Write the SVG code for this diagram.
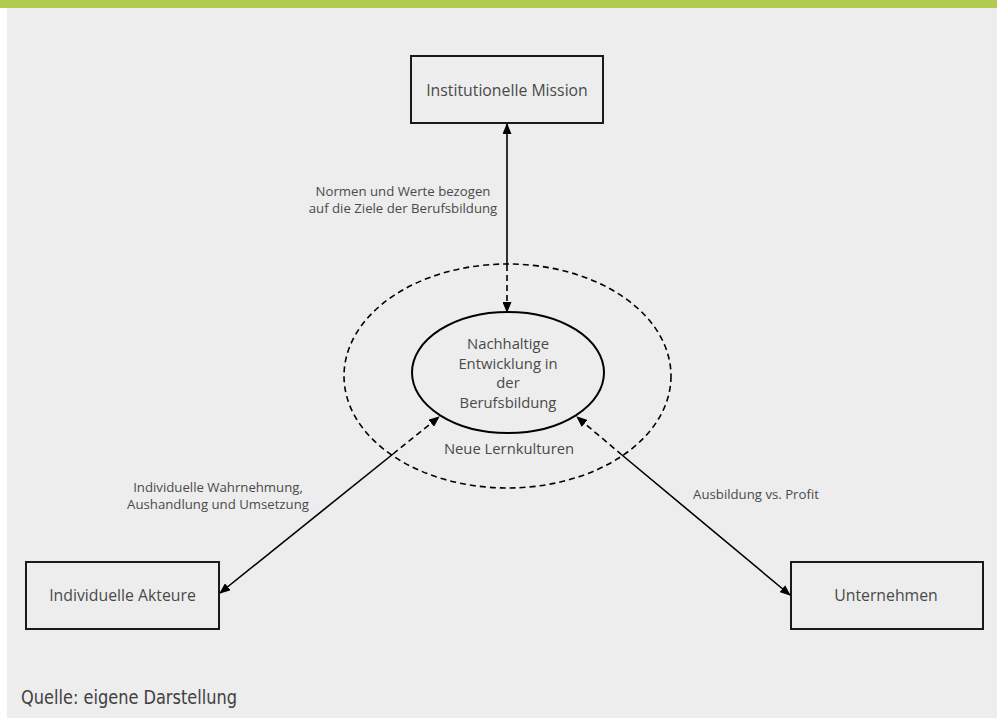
<svg xmlns="http://www.w3.org/2000/svg" width="997" height="718" viewBox="0 0 997 718">
<defs>
<marker id="arr" markerWidth="11" markerHeight="9" refX="10" refY="4.5" orient="auto" markerUnits="userSpaceOnUse">
<path d="M0,0 L11,4.5 L0,9 z" fill="#000"/>
</marker>
<style>
.box{fill:none;stroke:#1a1a1a;stroke-width:2}
.t{font-family:"Open Sans","Noto Sans","DejaVu Sans",sans-serif;fill:#4a4a4a;text-anchor:middle}
.b{font-size:15.8px}
.n{font-size:14.8px}
.l{font-size:13.2px}
.solid{stroke:#000;stroke-width:1.6;fill:none}
.dash{stroke:#000;stroke-width:1.6;fill:none;stroke-dasharray:6 4}
</style>
</defs>
<rect x="0" y="0" width="997" height="718" fill="#ffffff"/>
<rect x="7" y="8" width="990" height="710" fill="#ededed"/>
<rect x="0" y="0" width="997" height="8" fill="#b0cb52"/>

<g id="outer-ellipse">
<ellipse cx="507.5" cy="376" rx="163.5" ry="112" fill="none" stroke="#000" stroke-width="1.6" stroke-dasharray="6 4"/>
<text class="t n" x="509" y="454">Neue Lernkulturen</text>
</g>

<g id="center">
<ellipse cx="508" cy="372.5" rx="96" ry="60.5" fill="none" stroke="#000" stroke-width="2"/>
<text class="t n" x="508" y="349">Nachhaltige</text>
<text class="t n" x="508" y="369">Entwicklung in</text>
<text class="t n" x="508" y="388">der</text>
<text class="t n" x="508" y="408">Berufsbildung</text>
</g>

<g id="mission">
<rect class="box" x="411" y="56" width="192" height="67"/>
<text class="t b" x="507" y="95.5">Institutionelle Mission</text>
</g>

<g id="akteure">
<rect class="box" x="26" y="562" width="193" height="67"/>
<text class="t b" x="122.5" y="600.5">Individuelle Akteure</text>
</g>

<g id="unternehmen">
<rect class="box" x="791" y="562" width="192" height="67"/>
<text class="t b" x="886" y="600.5">Unternehmen</text>
</g>

<g id="connectors">
<line class="solid" x1="507" y1="265" x2="507" y2="124" marker-end="url(#arr)"/>
<line class="dash" x1="507" y1="265" x2="507" y2="312" marker-end="url(#arr)"/>
<line class="solid" x1="393" y1="454" x2="220" y2="593" marker-end="url(#arr)"/>
<line class="dash" x1="393" y1="454" x2="439" y2="417" marker-end="url(#arr)"/>
<line class="solid" x1="622" y1="455" x2="790" y2="595" marker-end="url(#arr)"/>
<line class="dash" x1="622" y1="455" x2="577" y2="417" marker-end="url(#arr)"/>
</g>

<g id="labels">
<text class="t l" x="403" y="195.5">Normen und Werte bezogen</text>
<text class="t l" x="403" y="212.5">auf die Ziele der Berufsbildung</text>
<text class="t l" x="218" y="491.5">Individuelle Wahrnehmung,</text>
<text class="t l" x="218" y="508.5">Aushandlung und Umsetzung</text>
<text class="t l" x="756" y="498.5">Ausbildung vs. Profit</text>
</g>

<text x="21" y="704" font-family="'DejaVu Sans Condensed','Roboto Condensed','Liberation Sans Narrow',sans-serif" font-stretch="condensed" font-size="19" fill="#404040" textLength="216" lengthAdjust="spacingAndGlyphs">Quelle: eigene Darstellung</text>
</svg>
